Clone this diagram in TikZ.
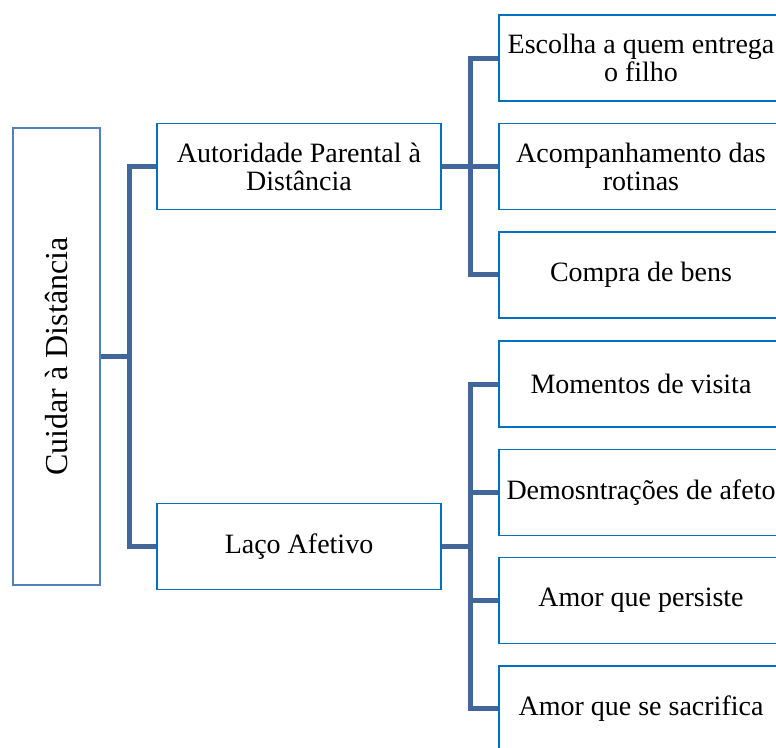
\documentclass[tikz,border=0pt]{standalone}
\usepackage{fontspec}
\setmainfont{Liberation Serif}
\usepackage{graphicx}
\usetikzlibrary{shapes}

\begin{document}
\begin{tikzpicture}[x=1pt,y=1pt]
        \definecolor{ramo}{HTML}{41679A}
        \definecolor{borda}{HTML}{0070C0}
        \definecolor{bordaraiz}{HTML}{4F81BD}
        \tikzstyle{caixa}=[rectangle,draw=borda,line width=1.6pt,fill=white,minimum width=284pt,minimum height=86pt,inner sep=0pt,align=center,font=\fontsize{28}{28}\selectfont]
        \tikzstyle{raiz}=[rectangle,draw=bordaraiz,line width=1.3pt,fill=white,minimum width=87pt,minimum height=457pt,inner sep=0pt,font=\fontsize{32}{34}\selectfont]
        \useasboundingbox (0,0) rectangle (776,-747);
        \clip (0,0) rectangle (776,-747);
        \node[raiz] (cuidar) at (56.5,-356.5) {\rotatebox{90}{Cuidar à Distância}}
        [grow'=right,
         edge from parent/.style={draw=ramo,line width=5pt},
         edge from parent path={(\tikzparentnode.east) -- +(28.5,0) |- (\tikzchildnode.west)},
         level 1/.style={level distance=242.5pt,sibling distance=380pt},
         level 2/.style={level distance=342pt,sibling distance=108.3pt}]
        child {node[caixa] (autoridade) {Autoridade Parental à\\Distância}
            child {node[caixa] (escolha) {Escolha a quem entrega\\o filho}}
            child {node[caixa] (rotinas) {Acompanhamento das\\rotinas}}
            child {node[caixa] (compra) {Compra de bens}}
        }
        child {node[caixa] (laco) {Laço Afetivo}
            child {node[caixa] (visita) {Momentos de visita}}
            child {node[caixa] (afeto) {Demosntrações de afeto}}
            child {node[caixa] (persiste) {Amor que persiste}}
            child {node[caixa] (sacrifica) {Amor que se sacrifica}}
        };
\end{tikzpicture}
\end{document}
